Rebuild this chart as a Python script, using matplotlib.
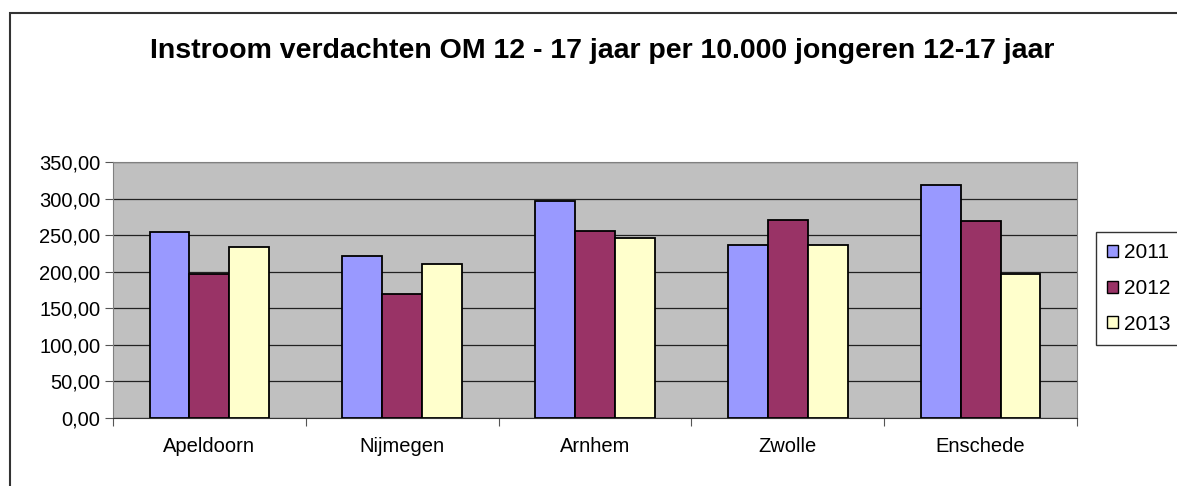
import numpy as np
import matplotlib.pyplot as plt
from matplotlib.patches import Rectangle, Patch

plt.rcParams['font.family'] = ['Liberation Sans', 'DejaVu Sans']

cities = ['Apeldoorn', 'Nijmegen', 'Arnhem', 'Zwolle', 'Enschede']
years = ['2011', '2012', '2013']
vals_2011 = [254, 221, 296, 237, 319]
vals_2012 = [197, 170, 256, 271, 269]
vals_2013 = [234, 211, 246, 237, 197]
colors = ['#9999FF', '#993366', '#FFFFCC']
yticks = [0, 50, 100, 150, 200, 250, 300, 350]

W, H = 1177, 486
fig = plt.figure(figsize=(W / 100, H / 100), dpi=100)

# outer chart border (right and bottom run off the picture)
fig.patches.append(Rectangle((10 / W, -0.2), 1.2, 1.2 - 13 / H,
                             transform=fig.transFigure, fill=False,
                             edgecolor='#333333', linewidth=1.5))

ax = fig.add_axes([113 / W, 1 - 418 / H, (1077 - 113) / W, (418 - 162) / H])
ax.set_facecolor('#C0C0C0')

x = np.arange(len(cities))
bw = 0.207
for i, (vals, c) in enumerate(zip([vals_2011, vals_2012, vals_2013], colors)):
    ax.bar(x + (i - 1) * bw, vals, width=bw, color=c, edgecolor='black',
           linewidth=1.3, zorder=3)

ax.set_ylim(0, 350)
ax.set_xlim(-0.5, 4.5)
ax.set_yticks(yticks, labels=[f'{v:.2f}'.replace('.', ',') for v in yticks], fontsize=14.5)
ax.yaxis.grid(True, color='#222222', linewidth=0.9, zorder=0)
ax.set_axisbelow(True)
ax.set_xticks(np.arange(-0.5, 5, 1), labels=[])
ax.set_xticks(x, labels=cities, minor=True, fontsize=14.5)
ax.tick_params(axis='x', which='minor', length=0, pad=14)
ax.tick_params(axis='x', which='major', length=6, direction='out', color='#555555')
ax.tick_params(axis='y', length=6, direction='out', color='#555555', pad=3)
for s in ['top', 'right', 'left']:
    ax.spines[s].set_color('#808080')
ax.spines['bottom'].set_color('#333333')

fig.text(602 / W, 1 - 51 / H, 'Instroom verdachten OM 12 - 17 jaar per 10.000 jongeren 12-17 jaar',
         ha='center', va='center', fontsize=20.5, fontweight='bold')

handles = [Patch(facecolor=c, edgecolor='black', linewidth=1) for c in colors]
leg = fig.legend(handles, years, loc='upper left', bbox_to_anchor=(1096 / W, 1 - 232 / H),
                 fontsize=15, frameon=True, fancybox=False, handlelength=0.5,
                 handleheight=0.5, handletextpad=0.3, labelspacing=0.8,
                 borderpad=0.55, borderaxespad=0)
leg.get_frame().set_edgecolor('black')
leg.get_frame().set_linewidth(1)

plt.savefig('out.png', dpi=100)
